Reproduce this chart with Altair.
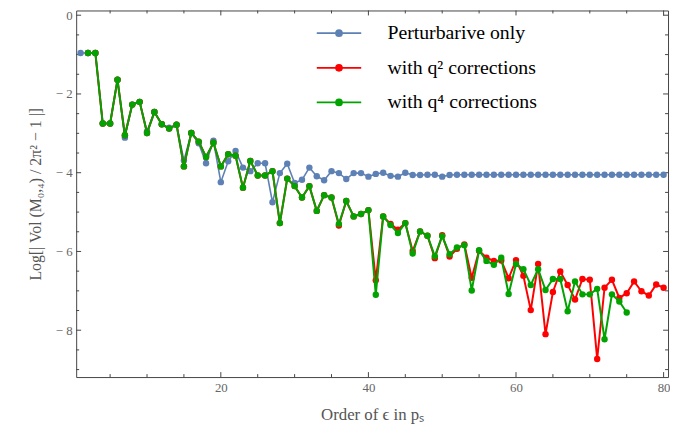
import altair as alt
import pandas as pd

# ---------------- data ----------------
x_blue = list(range(1, 81))
blue = [-0.96, -0.96, -0.96, -2.75, -2.75, -1.64, -3.11, -2.27, -2.20, -2.95,
        -2.46, -2.77, -2.86, -2.78, -3.69, -2.99, -3.25, -3.76, -3.19, -4.24,
        -3.71, -3.45, -3.87, -3.96, -3.76, -3.76, -4.75, -4.01, -3.77, -4.26,
        -4.18, -3.87, -4.09, -4.19, -3.96, -4.01, -4.16, -4.01, -4.01, -4.10,
        -4.03, -4.00, -4.08, -4.10, -4.00, -4.06, -4.06, -4.05, -4.05, -4.10,
        -4.06, -4.05, -4.05, -4.05, -4.05, -4.05, -4.05, -4.05, -4.05, -4.05,
        -4.05, -4.05, -4.05, -4.05, -4.05, -4.05, -4.05, -4.05, -4.05, -4.05,
        -4.05, -4.05, -4.05, -4.05, -4.05, -4.05, -4.05, -4.05, -4.05, -4.05]

x_red = list(range(2, 81))
red = [-0.96, -0.96, -2.75, -2.75, -1.64, -3.05, -2.27, -2.20, -2.99,
       -2.46, -2.77, -2.88, -2.78, -3.84, -2.99, -3.21, -3.60, -3.24, -3.84,
       -3.53, -3.57, -4.38, -3.70, -4.07, -4.07, -3.96, -5.28, -4.15, -4.34,
       -4.63, -4.34, -4.97, -4.57, -4.63, -5.34, -4.72, -5.11, -5.05, -4.95,
       -6.73, -5.11, -5.30, -5.45, -5.28, -5.99, -5.49, -5.60, -6.17, -5.59,
       -6.13, -5.93, -5.82, -6.67, -5.98, -6.16, -6.24, -6.23, -6.68, -6.22,
       -6.62, -7.49, -6.32, -8.10, -7.03, -6.51, -6.85, -7.22, -6.70, -6.72,
       -8.73, -6.92, -6.72, -7.18, -7.06, -6.76, -7.01, -7.12, -6.84, -6.92]

x_green = list(range(2, 76))
green = [-0.96, -0.96, -2.75, -2.75, -1.64, -3.05, -2.27, -2.20, -2.99,
         -2.46, -2.77, -2.88, -2.78, -3.84, -2.99, -3.21, -3.60, -3.24, -3.84,
         -3.53, -3.57, -4.38, -3.70, -4.07, -4.07, -3.96, -5.28, -4.15, -4.34,
         -4.63, -4.34, -4.97, -4.57, -4.63, -5.30, -4.72, -5.11, -5.05, -4.95,
         -7.10, -5.11, -5.33, -5.53, -5.28, -6.05, -5.49, -5.60, -6.12, -5.61,
         -6.07, -5.90, -5.84, -6.99, -5.97, -6.24, -6.34, -6.16, -7.08, -6.32,
         -6.45, -6.85, -6.45, -6.98, -6.70, -6.70, -7.52, -6.76, -7.09, -7.09,
         -6.95, -8.23, -7.09, -7.27, -7.55]

labels = ["Perturbarive only", "with q² corrections", "with q⁴ corrections"]
colors = ["#5E81B5", "#FF0000", "#00A300"]

x_major = [20, 40, 60, 80]
x_minor = [5, 10, 15, 25, 30, 35, 45, 50, 55, 65, 70, 75]
y_major = [0, -2, -4, -6, -8]
y_minor = [-0.5, -1, -1.5, -2.5, -3, -3.5, -4.5, -5, -5.5, -6.5, -7, -7.5,
           -8.5, -9]

# ---------------- build ----------------
rows = []
for lab, xs, ys in zip(labels, [x_blue, x_red, x_green], [blue, red, green]):
    for xv, yv in zip(xs, ys):
        rows.append({"order": xv, "value": yv, "series": lab})
df = pd.DataFrame(rows)

W, H = 599, 371
SERIF = "Liberation Serif"

xscale = alt.Scale(domain=[0.4, 80.6], nice=False, zero=False)
yscale = alt.Scale(domain=[-9.19, 0.12], nice=False, zero=False)

x_enc = alt.X("order:Q", scale=xscale,
              axis=alt.Axis(values=x_major, title="Order of ϵ in pₛ",
                            titlePadding=12, titleFontSize=17))
y_enc = alt.Y("value:Q", scale=yscale,
              axis=alt.Axis(values=y_major,
                            labelExpr="datum.value < 0 ? '− ' + format(-datum.value, 'd') : format(datum.value, 'd')",
                            title="Log[| Vol (M₀,₄) / 2π² − 1 |]",
                            titlePadding=12))

SYMBOL = ("M-2.25,0L2.25,0M0.3,0A0.3,0.3,0,1,1,-0.3,0"
          "A0.3,0.3,0,1,1,0.3,0Z")

color = alt.Color("series:N",
                  scale=alt.Scale(domain=labels, range=colors),
                  legend=alt.Legend(title=None, orient="none",
                                    legendX=255, legendY=12,
                                    symbolType=SYMBOL, symbolSize=400,
                                    symbolStrokeWidth=1.8,
                                    labelFont=SERIF, labelFontSize=20,
                                    labelColor="black", labelOffset=38,
                                    rowPadding=14, padding=0))

base = alt.Chart(df)
layers = []
widths = [1.6, 2.0, 2.0]
for lab, w in zip(labels, widths):
    b = base.transform_filter(alt.datum.series == lab)
    layers.append(b.mark_line(strokeWidth=w).encode(x=x_enc, y=y_enc, color=color))
    layers.append(b.mark_point(filled=True, size=42, opacity=1)
                  .encode(x=x_enc, y=y_enc, color=color))

TICK = "#444"
xt_major = alt.Chart(pd.DataFrame({"t": x_major}))
xt_minor = alt.Chart(pd.DataFrame({"t": x_minor}))
yt_major = alt.Chart(pd.DataFrame({"t": y_major}))
yt_minor = alt.Chart(pd.DataFrame({"t": y_minor}))

def xticks(c, L):
    xe = alt.X("t:Q", scale=xscale)
    return [
        c.mark_rule(color=TICK, strokeWidth=1).encode(x=xe, y=alt.value(H), y2=alt.value(H - L)),
        c.mark_rule(color=TICK, strokeWidth=1).encode(x=xe, y=alt.value(0), y2=alt.value(L)),
    ]

def yticks(c, L):
    ye = alt.Y("t:Q", scale=yscale)
    return [
        c.mark_rule(color=TICK, strokeWidth=1).encode(y=ye, x=alt.value(0), x2=alt.value(L)),
        c.mark_rule(color=TICK, strokeWidth=1).encode(y=ye, x=alt.value(W), x2=alt.value(W - L)),
    ]

tick_layers = xticks(xt_major, 5) + xticks(xt_minor, 3) + yticks(yt_major, 5) + yticks(yt_minor, 3)

chart = alt.layer(*(tick_layers + layers)).properties(
    width=W, height=H,
    autosize=alt.AutoSizeParams(type="none"),
    padding={"left": 69, "top": 0, "right": 2, "bottom": 46},
).configure_view(
    stroke="#444", strokeWidth=1
).configure_axis(
    ticks=False, domain=False, grid=False,
    labelFont=SERIF, labelFontSize=13, labelColor="#666", labelPadding=5,
    titleFont=SERIF, titleFontSize=16, titleColor="#555", titleFontWeight="normal",
).configure_axisY(labelPadding=4)

chart.save("out.html", embed_options={"renderer": "svg", "actions": False})
